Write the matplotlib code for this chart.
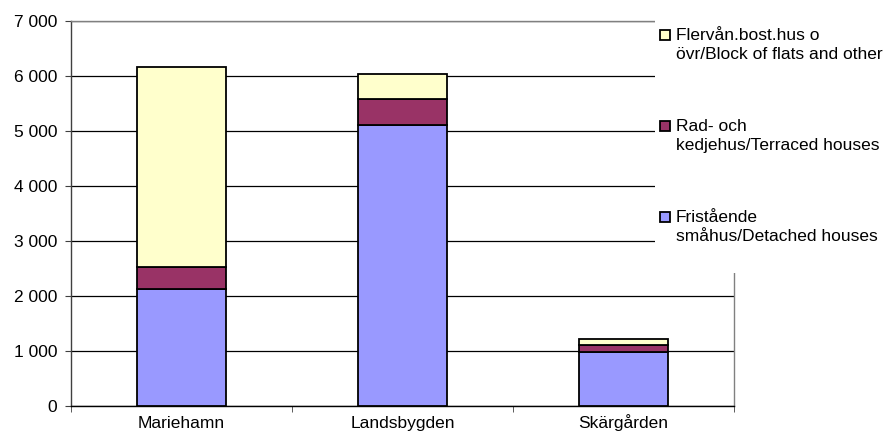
import matplotlib
matplotlib.use("Agg")
import matplotlib.pyplot as plt
from matplotlib.patches import Rectangle
import numpy as np

plt.rcParams['font.family'] = ['Liberation Sans', 'DejaVu Sans']

categories = ["Mariehamn", "Landsbygden", "Skärgården"]
detached = [2120, 5115, 985]
terraced = [415, 460, 120]
block = [3635, 460, 115]

series_labels = ["Flervån.bost.hus o\növr/Block of flats and other",
                 "Rad- och\nkedjehus/Terraced houses",
                 "Fristående\nsmåhus/Detached houses"]
colors = ["#FFFFCC", "#993366", "#9999FF"]

yticks = [0, 1000, 2000, 3000, 4000, 5000, 6000, 7000]
ytick_labels = ["0", "1 000", "2 000", "3 000", "4 000", "5 000", "6 000", "7 000"]

FS = 12.5
W, H = 895, 441
fig = plt.figure(figsize=(W / 100, H / 100), dpi=100)
ax = fig.add_axes([71 / W, 35 / H, 663 / W, 385 / H])

x = np.arange(len(categories))
d = np.array(detached)
t = np.array(terraced)
b = np.array(block)
kw = dict(width=0.4, edgecolor="black", linewidth=1.3, zorder=3)
ax.bar(x, d, color=colors[2], **kw)
ax.bar(x, t, bottom=d, color=colors[1], **kw)
ax.bar(x, b, bottom=d + t, color=colors[0], **kw)

ax.set_xlim(-0.5, 2.5)
ax.set_ylim(0, 7000)
ax.set_yticks(yticks)
ax.set_yticklabels(ytick_labels, fontsize=FS)
ax.set_xticks(x)
ax.set_xticklabels(categories, fontsize=FS)
for lbl in ax.get_xticklabels():
    lbl.set_va("baseline")
ax.set_xticks([-0.5, 0.5, 1.5, 2.5], minor=True)
ax.tick_params(axis="x", which="major", length=0, pad=15.5)
ax.tick_params(axis="x", which="minor", length=4, color="#404040")
ax.tick_params(axis="y", length=4, color="#404040", pad=6)
ax.yaxis.grid(True, color="black", linewidth=0.9, zorder=0)
ax.set_axisbelow(True)

ax.spines["left"].set_color("#404040")
ax.spines["bottom"].set_color("black")
ax.spines["top"].set_color("#808080")
ax.spines["right"].set_color("#808080")
for s in ax.spines.values():
    s.set_linewidth(1.0)

# legend area (covers upper right of the frame)
cover = Rectangle((655 / W, (H - 273) / H), (W - 655) / W, 273 / H,
                  transform=fig.transFigure, facecolor="white", edgecolor="none",
                  zorder=10)
fig.patches.append(cover)
entry_y = [35, 126, 217]
for lab, col, yy in zip(series_labels, colors, entry_y):
    fig.patches.append(Rectangle((660 / W, (H - yy - 5) / H), 10 / W, 10 / H,
                                 transform=fig.transFigure, facecolor=col,
                                 edgecolor="black", linewidth=1.3, zorder=11))
    fig.text(676 / W, (H - yy + 7) / H, lab, fontsize=FS, va="top", ha="left",
             linespacing=1.3, zorder=12)

fig.savefig("out.png", dpi=100)
